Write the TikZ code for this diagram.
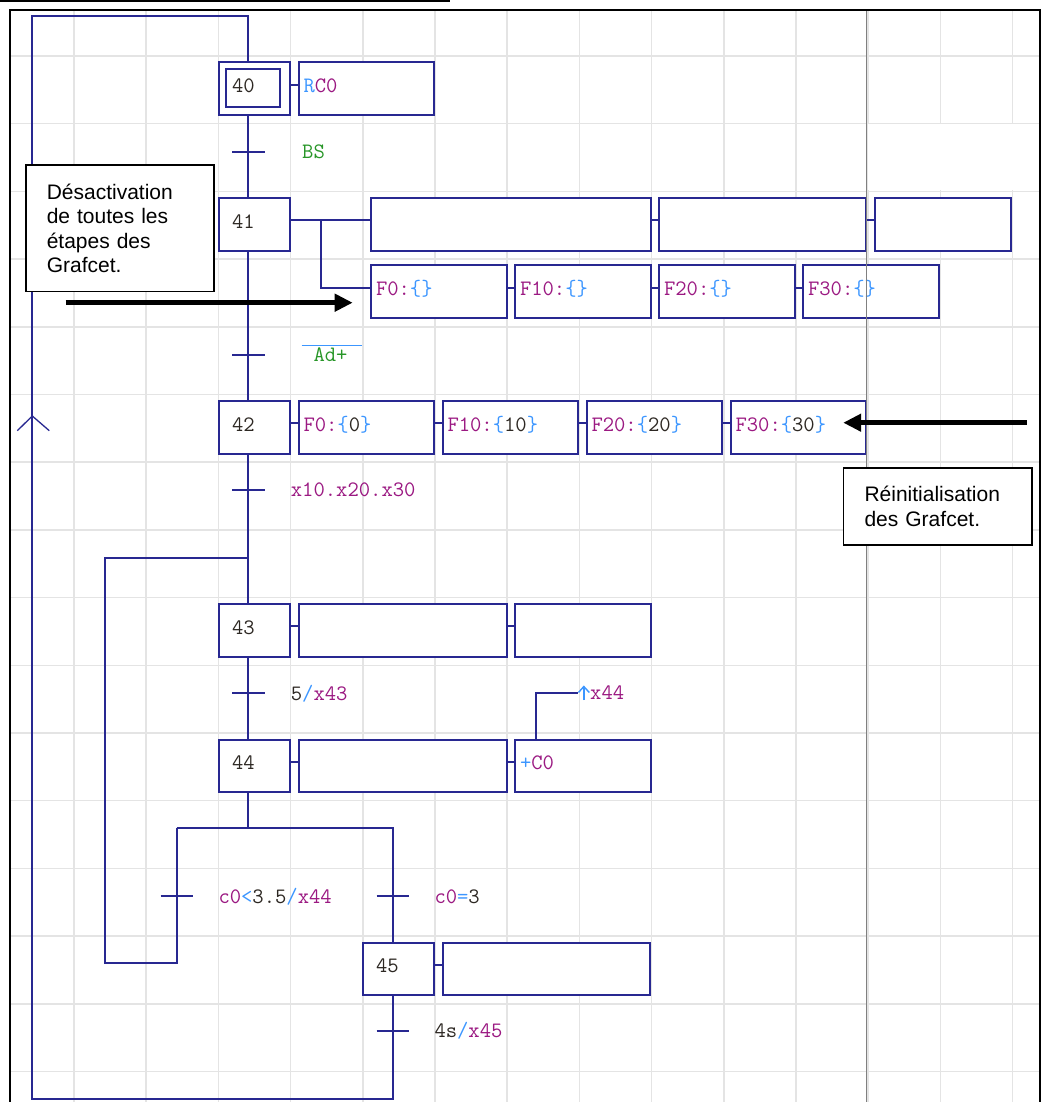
\documentclass[tikz,border=0pt]{standalone}
\usepackage{fontspec}
\newfontfamily\callfont{Liberation Sans}
\usetikzlibrary{calc,arrows.meta}
\definecolor{gblue}{RGB}{40,40,145}
\definecolor{gmag}{RGB}{155,25,130}
\definecolor{glb}{RGB}{60,150,255}
\definecolor{ggrn}{RGB}{40,150,40}
\definecolor{gdark}{RGB}{45,40,35}
\definecolor{gridc}{RGB}{228,228,228}
\definecolor{gline}{RGB}{128,128,128}
\newcommand{\gfM}[1]{\textcolor{gmag}{#1}}
\newcommand{\gfB}[1]{\textcolor{glb}{#1}}
\newcommand{\gfK}[1]{\textcolor{gdark}{#1}}
\newcommand{\gtfont}{\ttfamily\fontsize{22}{24}\selectfont}
\tikzset{
 wire/.style={draw=gblue, line width=2pt},
 tick/.style={draw=gblue, line width=2pt},
 gridl/.style={draw=gridc, line width=1.5pt},
 stepbox/.style={draw=gblue, fill=white, line width=2pt, anchor=north west,
   minimum width=71pt, minimum height=52.6pt, inner xsep=12.7pt, inner ysep=0pt,
   text width=45.6pt, align=left, text height=13pt, text depth=5.6pt,
   font=\gtfont, text=gdark},
 actbox/.style={draw=gblue, fill=white, line width=2pt, anchor=north west,
   minimum width=#1, minimum height=52.6pt, inner xsep=5pt, inner ysep=0pt,
   font=\gtfont},
 txtbox/.style={actbox=135.5pt, text width=125.5pt, align=left,
   text height=13pt, text depth=5.6pt},
 tlabel/.style={anchor=base west, inner sep=0pt, font=\gtfont},
 callout/.style={draw=black, fill=white, line width=1.5pt, anchor=north west,
   inner xsep=21pt, inner ysep=0pt, align=left, text width=146.3pt,
   font=\callfont\fontsize{21}{24.5}\selectfont},
 bigarrow/.style={draw=black, line width=5pt, -{Triangle[length=18pt 0 0,width=17pt 0 0]}},
}
\begin{document}
\begin{tikzpicture}[x=1pt,y=-1pt]
\useasboundingbox (0,0) rectangle (1047,1102);
\fill[white] (0,0) rectangle (1047,1102);
% grid
\begin{scope}
\clip (10,10) rectangle (1040,1102);
\foreach \i in {1,...,14} \draw[gridl] ({1.8+72.2*\i},10) -- ({1.8+72.2*\i},1102);
\foreach \j in {0,...,15} \draw[gridl] (10,{56+67.7*\j}) -- (1040,{56+67.7*\j});
\end{scope}
\fill[white] (868,124.5) rectangle (1039,190.5);

% coordinates of links
\coordinate (Lx) at (248.3,0);
\coordinate (top) at (248.3,16.3);
\coordinate (topL) at (32.3,16.3);
\coordinate (botL) at (32.3,1099);
\coordinate (bot45) at (392.7,1099);
\coordinate (divL) at (176.7,828.3);
\coordinate (divR) at (392.7,828.3);
\coordinate (loopA) at (176.7,963.3);
\coordinate (loopB) at (105,963.3);
\coordinate (loopC) at (105,557.7);

% steps
\node[stepbox] (s40) at (218.3,61.5) {40};
\node[draw=gblue, line width=2pt, minimum width=54pt, minimum height=37.7pt, inner sep=0pt] (s40i) at (253,87.85) {};
\node[stepbox] (s41) at (218.3,197) {41};
\node[stepbox] (s42) at (218.3,400) {42};
\node[stepbox] (s43) at (218.3,603) {43};
\node[stepbox] (s44) at (218.3,738.5) {44};
\node[stepbox] (s45) at (362.3,941.5) {45};

% links
\draw[wire] (s45.south -| bot45) -- (bot45) -- (botL) -- (topL) -- (top) -- (top |- s40.north);
\draw[wire] (s40.south -| Lx) -- (s41.north -| Lx);
\draw[wire] (s41.south -| Lx) -- (s42.north -| Lx);
\draw[wire] (s42.south -| Lx) -- (s43.north -| Lx);
\draw[wire] (s43.south -| Lx) -- (s44.north -| Lx);
\draw[wire] (s44.south -| Lx) -- (divL -| Lx);
\draw[wire] (divL) -- (divR) -- (s45.north -| divR);
\draw[wire] (divL) -- (loopA) -- (loopB) -- (loopC) -- (loopC -| Lx);
\draw[gblue, line width=1.3pt] (17.3,430.7) -- (32.3,416) -- (49.3,430.7);

% actions
\node[txtbox] (a40) at (297.5,61.5) {\gfB{R}\gfM{C0}};
\draw[wire] ($(s40.east)+(0,-4)$) -- ($(a40.west)+(0,-4)$);

\node[actbox=279.5pt] (b41a) at (370,197) {};
\node[actbox=207pt] (b41b) at (658,197) {};
\node[actbox=136pt] (b41c) at (873.5,197) {};
\node[txtbox] (f41a) at (370,264.3) {\gfM{F0:}\gfB{\{\}}};
\node[txtbox] (f41b) at (514,264.3) {\gfM{F10:}\gfB{\{\}}};
\node[txtbox] (f41c) at (658,264.3) {\gfM{F20:}\gfB{\{\}}};
\node[txtbox] (f41d) at (802,264.3) {\gfM{F30:}\gfB{\{\}}};
\coordinate (br41) at (320.7,219.3);
\draw[wire] ($(s41.east)+(0,-4)$) -- ($(b41a.west)+(0,-4)$);
\draw[wire] ($(b41a.east)+(0,-4)$) -- ($(b41b.west)+(0,-4)$);
\draw[wire] ($(b41b.east)+(0,-4)$) -- ($(b41c.west)+(0,-4)$);
\draw[wire] (br41) |- ($(f41a.west)+(0,-4)$);
\draw[wire] ($(f41a.east)+(0,-4)$) -- ($(f41b.west)+(0,-4)$);
\draw[wire] ($(f41b.east)+(0,-4)$) -- ($(f41c.west)+(0,-4)$);
\draw[wire] ($(f41c.east)+(0,-4)$) -- ($(f41d.west)+(0,-4)$);

\node[txtbox] (a42a) at (297.5,400) {\gfM{F0:}\gfB{\{}\gfK{0}\gfB{\}}};
\node[txtbox] (a42b) at (441.5,400) {\gfM{F10:}\gfB{\{}\gfK{10}\gfB{\}}};
\node[txtbox] (a42c) at (585.5,400) {\gfM{F20:}\gfB{\{}\gfK{20}\gfB{\}}};
\node[txtbox] (a42d) at (729.5,400) {\gfM{F30:}\gfB{\{}\gfK{30}\gfB{\}}};
\draw[wire] ($(s42.east)+(0,-4)$) -- ($(a42a.west)+(0,-4)$);
\draw[wire] ($(a42a.east)+(0,-4)$) -- ($(a42b.west)+(0,-4)$);
\draw[wire] ($(a42b.east)+(0,-4)$) -- ($(a42c.west)+(0,-4)$);
\draw[wire] ($(a42c.east)+(0,-4)$) -- ($(a42d.west)+(0,-4)$);

\node[actbox=208pt] (a43a) at (297.5,603) {};
\node[actbox=135.5pt] (a43b) at (514,603) {};
\draw[wire] ($(s43.east)+(0,-4)$) -- ($(a43a.west)+(0,-4)$);
\draw[wire] ($(a43a.east)+(0,-4)$) -- ($(a43b.west)+(0,-4)$);

\node[actbox=208pt] (a44a) at (297.5,738.5) {};
\node[txtbox] (a44b) at (514,738.5) {\gfB{+}\gfM{C0}};
\draw[wire] ($(s44.east)+(0,-4)$) -- ($(a44a.west)+(0,-4)$);
\draw[wire] ($(a44a.east)+(0,-4)$) -- ($(a44b.west)+(0,-4)$);
\coordinate (c44) at (536.3,693);
\coordinate (c44e) at (578.3,693);
\draw[wire] (a44b.north -| c44) -- (c44) -- (c44e);
\draw[glb, line width=1.4pt] (583.8,700) -- (583.8,686.5);
\draw[glb, line width=1.4pt] (578.5,692.5) -- (583.8,686.5) -- (589.3,692.5);
\node[tlabel] (l44) at (590,699.3) {\gfM{x44}};

\node[actbox=207.3pt] (a45) at (442,941.5) {};
\draw[wire] ($(s45.east)+(0,-4)$) -- ($(a45.west)+(0,-4)$);

% transitions
\coordinate (t1) at (248.3,151.7);
\coordinate (t2) at (248.3,355);
\coordinate (t3) at (248.3,490.3);
\coordinate (t4) at (248.3,693.3);
\coordinate (t5) at (176.7,896.3);
\coordinate (t6) at (392.7,896.3);
\coordinate (t7) at (392.7,1031.3);
\foreach \t in {t1,t2,t3,t4,t5,t6,t7}
  \draw[tick] ($(\t)+(-16.2,0)$) -- ($(\t)+(16.2,0)$);
\node[tlabel, text=ggrn] (l1) at (302,158.3) {BS};
\node[tlabel, text=ggrn] (l2) at (313.3,361.5) {Ad+};
\draw[glb, line width=1.5pt] (301.7,345.7) -- (361.7,345.7);
\node[tlabel, text=gmag] (l3) at (290.7,496.7) {x10.x20.x30};
\node[tlabel] (l4) at (290.7,700) {\gfK{5}\gfB{/}\gfM{x43}};
\node[tlabel] (l5) at (218.3,903.3) {\gfM{c0}\gfB{<}\gfK{3.5}\gfB{/}\gfM{x44}};
\node[tlabel] (l6) at (434.3,903.3) {\gfM{c0}\gfB{=}\gfK{3}};
\node[tlabel] (l7) at (434.3,1037.5) {\gfK{4s}\gfB{/}\gfM{x45}};

% dark gray vertical line
\draw[gline, line width=1.5pt] (866.7,10) -- (866.7,1102);

% callouts and arrows
\node[callout, minimum width=188.3pt, minimum height=126.4pt] (c1) at (25,164.3)
  {Désactivation\\de toutes les\\étapes des\\Grafcet.};
\node[callout, minimum width=188pt, minimum height=77pt] (c2) at (842.8,467.3)
  {Réinitialisation\\des Grafcet.};
\coordinate (ar1s) at (65.7,302.7);
\coordinate (ar1e) at (352.7,302.7);
\coordinate (ar2s) at (1026.8,422.7);
\coordinate (ar2e) at (843.2,422.7);
\draw[bigarrow] (ar1s) -- (ar1e);
\draw[bigarrow] (ar2s) -- (ar2e);

% frame
\draw[black, line width=2pt] (10,1102) -- (10,10) -- (1040,10) -- (1040,1102);
\draw[black, line width=2.5pt] (0,1) -- (450,1);
\end{tikzpicture}
\end{document}
